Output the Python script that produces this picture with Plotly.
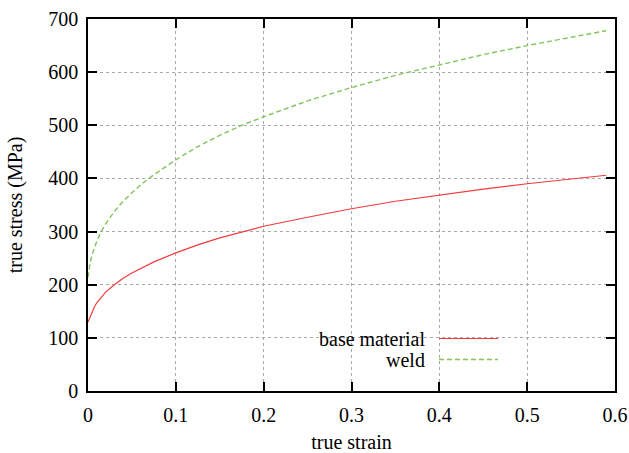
import plotly.graph_objects as go

strain = [0, 0.0025, 0.005, 0.0075, 0.01, 0.015, 0.02, 0.03, 0.04, 0.05, 0.06, 0.075,
          0.1, 0.125, 0.15, 0.175, 0.2, 0.25, 0.3, 0.35, 0.4, 0.45, 0.5, 0.55, 0.59]
base_material = [130, 141, 151, 159, 166, 177, 186, 200, 212, 222, 231, 243,
                 260, 275, 288, 299, 310, 327, 343, 357, 369, 380, 390, 399, 406]
weld = [214, 242, 258, 270, 282, 300, 314, 338, 357, 373, 388, 407,
        435, 460, 481, 500, 516, 546, 571, 594, 614, 633, 650, 665, 678]

x_ticks = [0, 0.1, 0.2, 0.3, 0.4, 0.5, 0.6]
x_tick_labels = ["0", "0.1", "0.2", "0.3", "0.4", "0.5", "0.6"]
y_ticks = [0, 100, 200, 300, 400, 500, 600, 700]

FONT = "Liberation Serif"
FS = 20
RED = "#f03c3c"
GREEN = "#80c45a"

fig = go.Figure()
fig.add_trace(go.Scatter(x=strain, y=base_material, mode="lines", name="base material",
                         line=dict(color=RED, width=1.2), showlegend=False))
fig.add_trace(go.Scatter(x=strain, y=weld, mode="lines", name="weld",
                         line=dict(color=GREEN, width=1.4, dash="5px,3px"),
                         showlegend=False))

axis_common = dict(
    showline=True, linecolor="black", linewidth=1.5, mirror="ticks",
    ticks="inside", ticklen=9, tickwidth=1.5, tickcolor="black",
    showgrid=True, gridcolor="#a8a8a8", griddash="dot", gridwidth=1,
    zeroline=False, automargin=False,
    tickfont=dict(family=FONT, size=FS, color="black"),
)

fig.update_xaxes(range=[0, 0.6], tickvals=x_ticks, ticktext=x_tick_labels,
                 ticklabelstandoff=5,
                 title=dict(text="true strain", font=dict(family=FONT, size=FS, color="black"),
                            standoff=26),
                 **axis_common)
fig.update_yaxes(range=[0, 700], tickvals=y_ticks, ticklabelstandoff=4,
                 title=dict(text="true stress (MPa)", font=dict(family=FONT, size=FS, color="black"),
                            standoff=20),
                 **axis_common)

# legend (gnuplot style: text left, sample right) with opaque white box
fig.add_shape(type="rect", xref="paper", yref="paper",
              x0=(305 - 88) / 527, x1=(510 - 88) / 527,
              y0=(391 - 370) / 372, y1=(391 - 326) / 372,
              fillcolor="white", line=dict(width=0), layer="between")
leg_rows = [("base material", RED, "solid", 1.2, 338.5), ("weld", GREEN, "5px,3px", 1.4, 359.5)]
for label, col, dash, lw, ypix in leg_rows:
    yp = (391 - ypix) / 372
    fig.add_annotation(text=label, xref="paper", yref="paper",
                       x=(427 - 88) / 527, y=yp, xanchor="right", yanchor="middle",
                       showarrow=False, font=dict(family=FONT, size=FS, color="black"))
    fig.add_shape(type="line", xref="paper", yref="paper",
                  x0=(439 - 88) / 527, x1=(498 - 88) / 527, y0=yp, y1=yp,
                  line=dict(color=col, width=lw, dash=dash), layer="above")

fig.update_layout(
    width=629, height=453,
    margin=dict(l=88, r=14, t=19, b=62),
    paper_bgcolor="white", plot_bgcolor="white",
    font=dict(family=FONT, size=FS, color="black"),
)

fig.write_html("out.html")
